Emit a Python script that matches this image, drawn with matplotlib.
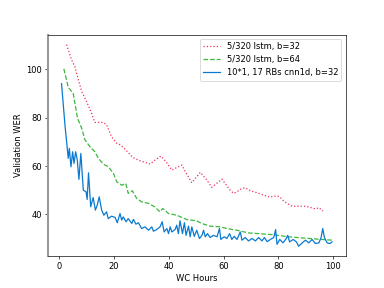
import numpy as np
import matplotlib
matplotlib.use("Agg")
import matplotlib.pyplot as plt

# 5/320 lstm, b=32
red_x = [2.7, 4.5, 5.7, 7.0, 8.2, 10.0, 11.8, 13.0, 16.1, 17.3, 19.1, 21.0, 22.4, 24.0,
         26.8, 29.5, 33.2, 35.0, 37.1, 39.0, 41.1, 42.9, 44.8, 46.0, 48.4, 51.5, 53.9,
         55.7, 59.4, 61.5, 62.4, 63.7, 64.9, 66.7, 67.9, 69.8, 72.2, 74.6, 76.8, 79.3,
         80.5, 82.0, 83.2, 85.0, 89.9, 91.7, 93.5, 94.8, 96.3]
red_y = [110.1, 103.9, 101.1, 95.6, 90.8, 86.6, 81.8, 78.0, 78.0, 77.0, 72.1, 69.4, 68.7, 67.0,
         63.6, 62.2, 60.8, 62.5, 64.1, 61.8, 58.3, 59.4, 60.4, 57.7, 53.1, 57.4, 54.2,
         51.2, 54.6, 51.4, 50.0, 48.7, 49.4, 50.8, 51.0, 49.8, 49.0, 48.0, 47.2, 47.7,
         47.3, 45.5, 44.6, 43.4, 43.4, 42.9, 42.3, 42.8, 41.4]

# 5/320 lstm, b=64
green_x = [1.7, 3.3, 5.1, 6.7, 8.2, 9.4, 11.2, 13.0, 14.3, 16.1, 17.9, 19.8, 21.0, 22.8,
           24.3, 25.2, 26.7, 28.3, 30.1, 32.6, 34.8, 36.8, 37.8, 39.9, 42.9, 46.6, 50.2,
           52.0, 55.1, 58.8, 61.2, 64.9, 69.1, 72.8, 77.7, 83.8, 92.3, 99.6]
green_y = [100.1, 92.5, 90.0, 79.7, 75.6, 70.8, 68.0, 65.9, 63.2, 60.8, 59.7, 57.0, 53.5, 52.1,
           52.8, 48.7, 49.8, 46.6, 45.2, 44.6, 43.2, 41.1, 42.5, 40.4, 39.7, 37.9, 37.4,
           36.3, 35.2, 34.9, 34.2, 33.5, 32.4, 32.1, 31.7, 30.8, 30.0, 29.4]

# 10*1, 17 RBs cnn1d, b=32
blue_x = [0.85, 2.1, 2.7, 3.3, 3.7, 4.3, 4.9, 5.4, 6.0, 6.6, 7.2, 7.9, 8.8, 9.8, 10.2, 10.7,
          11.5, 12.4, 13.2, 13.9, 14.6, 15.5, 16.3, 17.3, 17.9, 19.1, 20.4, 21.2, 22.2,
          22.8, 23.4, 24.4, 25.2, 26.5, 27.1, 28.0, 28.9, 30.1, 31.3, 32.6, 33.8, 34.4,
          35.6, 36.8, 37.6, 38.3, 39.3, 39.9, 40.5, 41.1, 42.3, 42.9, 43.5, 44.1, 45.0,
          45.7, 46.3, 47.2, 47.8, 48.4, 49.3, 50.2, 51.2, 52.1, 52.7, 53.3, 54.1, 55.1,
          56.3, 57.6, 58.5, 59.0, 60.2, 61.2, 62.2, 63.0, 63.9, 64.9, 66.1, 66.7, 67.9,
          69.1, 70.4, 71.6, 72.8, 74.0, 74.9, 75.9, 77.1, 78.3, 79.0, 79.5, 80.5, 81.7,
          82.9, 83.4, 84.1, 85.4, 86.6, 87.4, 88.7, 89.9, 91.1, 92.3, 93.5, 94.8, 95.6,
          96.2, 96.8, 97.8, 98.8, 99.6]
blue_y = [94.0, 77.0, 70.1, 63.2, 67.3, 59.7, 65.9, 61.1, 65.9, 62.5, 54.5, 65.2, 50.0, 49.4,
          46.2, 57.2, 43.2, 47.0, 41.8, 43.9, 47.3, 41.8, 39.7, 41.1, 38.3, 39.3, 38.8,
          36.6, 40.4, 37.7, 39.0, 37.0, 38.3, 36.3, 38.0, 36.0, 36.6, 34.2, 34.9, 33.5,
          34.9, 33.1, 33.8, 34.9, 37.0, 32.8, 34.2, 32.1, 34.9, 32.8, 33.8, 35.6, 32.1,
          37.4, 32.1, 36.6, 31.4, 35.2, 30.8, 34.9, 31.0, 33.5, 30.1, 31.4, 33.5, 30.8,
          32.1, 30.5, 31.4, 30.8, 34.2, 29.7, 30.8, 30.1, 32.1, 29.7, 31.0, 29.7, 32.8,
          29.4, 30.5, 29.1, 30.1, 29.1, 30.5, 29.1, 30.5, 28.8, 29.7, 30.5, 33.8, 27.7,
          29.7, 28.3, 30.1, 31.4, 28.7, 29.7, 28.7, 26.9, 28.3, 29.4, 28.3, 29.7, 28.0,
          28.3, 30.5, 34.2, 30.5, 28.3, 28.0, 28.7]

fig, ax = plt.subplots(figsize=(6.4, 4.8), dpi=60)
ax.plot(red_x, red_y, ':', color='#f0305a', label='5/320 lstm, b=32')
ax.plot(green_x, green_y, '--', color='#3cb83c', label='5/320 lstm, b=64')
ax.plot(blue_x, blue_y, '-', color='#0a7ad0', label='10*1, 17 RBs cnn1d, b=32')

ax.set_xlabel('WC Hours')
ax.set_ylabel('Validation WER')
ax.set_xticks([0, 20, 40, 60, 80, 100])
ax.set_yticks([40, 60, 80, 100])
ax.spines['left'].set_color('#999999')
ax.spines['left'].set_linewidth(2.5)
ax.legend(loc='upper right')

fig.savefig('out.png', dpi=60)
